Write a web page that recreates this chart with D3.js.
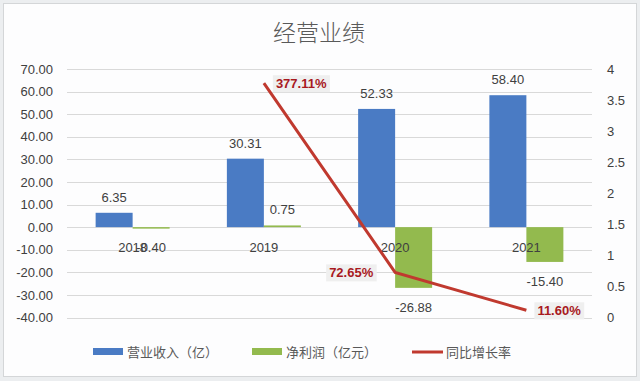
<!DOCTYPE html>
<html><head><meta charset="utf-8">
<script src="https://cdn.jsdelivr.net/npm/d3@7"></script>
<style>
html,body{margin:0;padding:0;background:#fff;}
svg{display:block;}
text{font-family:"Liberation Sans","Noto Sans CJK SC",sans-serif;}
</style></head>
<body>
<svg id="chart" width="640" height="381"></svg>
<script>
const categories = ["2018", "2019", "2020", "2021"];
const revenue = [6.35, 30.31, 52.33, 58.40];
const netProfit = [-0.40, 0.75, -26.88, -15.40];
const growth = [null, 3.7711, 0.7265, 0.1160];
const growthLabels = [null, "377.11%", "72.65%", "11.60%"];
const leftTicks = [-40, -30, -20, -10, 0, 10, 20, 30, 40, 50, 60, 70];
const rightTicks = [0, 0.5, 1, 1.5, 2, 2.5, 3, 3.5, 4];
const seriesNames = ["营业收入（亿）", "净利润（亿元）", "同比增长率"];
const title = "经营业绩";

const svg = d3.select("#chart");
const W = 640, H = 381;
const blue = "#4a7bc4", green = "#93ba4e", red = "#c0392f", labelRed = "#a8191e";
const axisColor = "#404040";
const fmt = v => d3.format(".2f")(v).replace("\u2212", "-");

svg.append("rect").attr("x", 0).attr("y", 0).attr("width", W).attr("height", H).attr("fill", "#eceef0");
svg.append("rect").attr("x", 3.5).attr("y", 3.5).attr("width", 633).attr("height", 373)
  .attr("fill", "#fdfdfe").attr("stroke", "#d4d6d8");

const plot = {left: 67, right: 592, top: 69, bottom: 317.5};
const x = d3.scaleBand().domain(categories).range([plot.left, plot.right]).paddingInner(0).paddingOuter(0);
const bw = 37;
const xs = d3.scaleBand().domain(["rev", "profit"]).range([-bw, bw]);
const y = d3.scaleLinear().domain([-40, 70]).range([plot.bottom, plot.top]);
const y2 = d3.scaleLinear().domain([0, 4]).range([plot.bottom, plot.top]);

// title
svg.append("text").attr("x", 319).attr("y", 41).attr("text-anchor", "middle")
  .attr("font-size", 23).attr("fill", "#595959")
  .style("font-family", "'Noto Sans CJK SC',sans-serif").style("font-weight", 300)
  .text(title);

// gridlines
svg.append("g").selectAll("line").data(leftTicks).join("line")
  .attr("x1", plot.left).attr("x2", plot.right)
  .attr("y1", d => Math.round(y(d)) + 0.5).attr("y2", d => Math.round(y(d)) + 0.5)
  .attr("stroke", "#d9d9d9").attr("stroke-width", 1);

// left axis
const gl = svg.append("g").attr("transform", `translate(${plot.left - 14},0)`)
  .call(d3.axisLeft(y).tickValues(leftTicks).tickSize(0).tickPadding(0).tickFormat(fmt));
gl.select(".domain").remove();
gl.selectAll("text").attr("font-size", 13).attr("fill", axisColor)
  .style("font-family", "'Liberation Sans',sans-serif");

// right axis
const gr = svg.append("g").attr("transform", `translate(${plot.right + 15},0)`)
  .call(d3.axisRight(y2).tickValues(rightTicks).tickSize(0).tickPadding(0).tickFormat(d => String(d)));
gr.select(".domain").remove();
gr.selectAll("text").attr("font-size", 13).attr("fill", axisColor)
  .style("font-family", "'Liberation Sans',sans-serif");

// bars
const g = svg.append("g");
g.selectAll("rect.rev").data(categories).join("rect").attr("class", "rev")
  .attr("x", (d) => x(d) + x.bandwidth() / 2 + xs("rev"))
  .attr("width", xs.bandwidth())
  .attr("y", (d, i) => y(Math.max(0, revenue[i])))
  .attr("height", (d, i) => Math.abs(y(revenue[i]) - y(0)))
  .attr("fill", blue);
g.selectAll("rect.profit").data(categories).join("rect").attr("class", "profit")
  .attr("x", (d) => x(d) + x.bandwidth() / 2 + xs("profit"))
  .attr("width", xs.bandwidth())
  .attr("y", (d, i) => y(Math.max(0, netProfit[i])))
  .attr("height", (d, i) => Math.max(1.5, Math.abs(y(netProfit[i]) - y(0))))
  .attr("fill", green);

// category labels
svg.append("g").selectAll("text").data(categories).join("text")
  .attr("x", d => x(d) + x.bandwidth() / 2)
  .attr("y", y(0) + 25)
  .attr("text-anchor", "middle").attr("font-size", 13).attr("fill", axisColor)
  .text(d => d);

// bar value labels
function barLabel(vals, key) {
  svg.append("g").selectAll("text").data(categories).join("text")
    .attr("x", d => x(d) + x.bandwidth() / 2 + xs(key) + xs.bandwidth() / 2)
    .attr("y", (d, i) => vals[i] >= 0 ? y(vals[i]) - 11 : y(vals[i]) + 24)
    .attr("text-anchor", "middle").attr("font-size", 13).attr("fill", axisColor)
    .text((d, i) => fmt(vals[i]));
}
barLabel(revenue, "rev");
barLabel(netProfit, "profit");

// line
const pts = categories.map((c, i) => ({c, v: growth[i], l: growthLabels[i]})).filter(p => p.v != null);
const line = d3.line().x(p => x(p.c) + x.bandwidth() / 2).y(p => y2(p.v));
svg.append("path").datum(pts).attr("d", line).attr("fill", "none")
  .attr("stroke", red).attr("stroke-width", 3);

// line labels
const offs = {"2019": 12, "2020": -66, "2021": 11};
const lg = svg.append("g");
pts.forEach(p => {
  const px = x(p.c) + x.bandwidth() / 2, py = y2(p.v);
  const t = lg.append("text").attr("font-size", 13).attr("font-weight", "bold").attr("fill", labelRed)
    .attr("x", px + offs[p.c]).attr("y", py + 5).text(p.l);
  const bb = t.node().getBBox();
  lg.insert("rect", "text").attr("x", bb.x - 3).attr("y", bb.y - 1).attr("width", bb.width + 6).attr("height", bb.height + 2)
    .attr("fill", "#efefef");
});

// legend
const leg = svg.append("g");
const legItems = [
  {name: seriesNames[0], type: "rect", color: blue, x: 93},
  {name: seriesNames[1], type: "rect", color: green, x: 252},
  {name: seriesNames[2], type: "line", color: red, x: 412}
];
legItems.forEach(it => {
  if (it.type === "rect") {
    leg.append("rect").attr("x", it.x).attr("y", 348).attr("width", 30).attr("height", 7).attr("fill", it.color);
  } else {
    leg.append("line").attr("x1", it.x).attr("x2", it.x + 31).attr("y1", 352).attr("y2", 352)
      .attr("stroke", it.color).attr("stroke-width", 3);
  }
  leg.append("text").attr("x", it.x + 34).attr("y", 357).attr("font-size", 13).attr("fill", "#595959")
    .style("font-family", "'Noto Sans CJK SC',sans-serif").text(it.name);
});
</script>
</body></html>
